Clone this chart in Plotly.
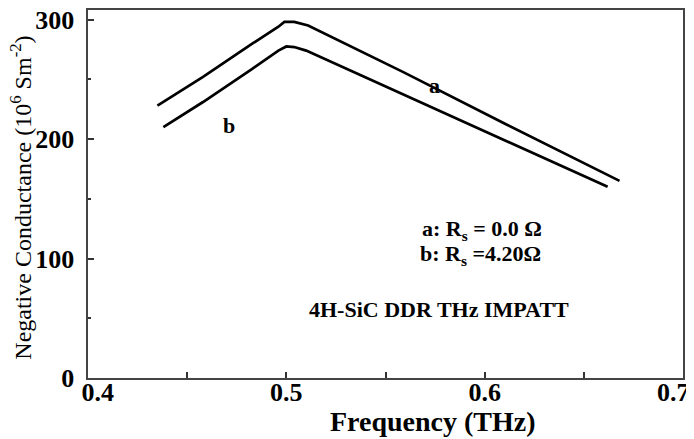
import plotly.graph_objects as go

# Frequency (THz) and negative conductance (10^6 S m^-2)
freq_a = [0.435, 0.458, 0.483, 0.496, 0.499, 0.504, 0.511, 0.559, 0.610, 0.668]
cond_a = [228, 252, 280, 294, 298, 298, 295, 256, 213, 165]

freq_b = [0.438, 0.458, 0.483, 0.496, 0.500, 0.504, 0.510, 0.559, 0.610, 0.662]
cond_b = [210, 231, 259, 274, 277.5, 277, 274, 237, 199, 160]

NB = "\u00a0"
x_ticks = [0.4, 0.5, 0.6, 0.7]
x_tick_labels = [NB * 3 + "0.4", "0.5", "0.6", "0.7" + NB * 3]
y_ticks = [0, 100, 200, 300]
y_tick_labels = ["0" + NB, "100" + NB, "200" + NB, "300" + NB]

SERIF = "Liberation Serif"

fig = go.Figure()
fig.add_trace(go.Scatter(x=freq_a, y=cond_a, mode="lines",
                         line=dict(color="black", width=2.7), name="a"))
fig.add_trace(go.Scatter(x=freq_b, y=cond_b, mode="lines",
                         line=dict(color="black", width=2.7), name="b"))

tick_font = dict(family=SERIF, size=26, color="black", weight="bold")
ann_font = dict(family=SERIF, size=22, color="black", weight="bold")

fig.add_annotation(x=0.5745, y=245, text="a", showarrow=False, font=ann_font)
fig.add_annotation(x=0.4711, y=211, text="b", showarrow=False, font=ann_font)
fig.add_annotation(x=0.5674, y=124, text="a: R<sub>s</sub> = 0.0 Ω", showarrow=False,
                   xanchor="left", font=ann_font)
fig.add_annotation(x=0.5664, y=103, text="b: R<sub>s</sub> =4.20Ω", showarrow=False,
                   xanchor="left", font=ann_font)
fig.add_annotation(x=0.577, y=57, text="4H-SiC DDR THz IMPATT", showarrow=False,
                   font=ann_font)

# axis titles
fig.add_annotation(xref="paper", yref="paper", x=0.58, y=0, yshift=-43,
                   xanchor="center", yanchor="middle", showarrow=False,
                   text="Frequency (THz)",
                   font=dict(family=SERIF, size=28, color="black", weight="bold"))
fig.add_annotation(xref="paper", yref="paper", x=0, xshift=-67, y=0.49,
                   xanchor="center", yanchor="middle", showarrow=False, textangle=-90,
                   text="Negative Conductance (10<sup>6</sup> Sm<sup>-2</sup>)",
                   font=dict(family=SERIF, size=24, color="black"))

axis_line = dict(showline=True, linecolor="#444444", linewidth=2, mirror=True,
                 showgrid=False, zeroline=False, ticks="inside", tickcolor="#333333",
                 ticklen=6, tickwidth=1.5, automargin=False, ticklabeloverflow="allow")

fig.update_xaxes(range=[0.4, 0.7], tickvals=x_ticks, ticktext=x_tick_labels,
                 tickfont=tick_font, ticklabelstandoff=-10,
                 minor=dict(dtick=0.05, tick0=0.4, ticks="inside", ticklen=6,
                            tickcolor="#333333", tickwidth=1.5),
                 **axis_line)
fig.update_yaxes(range=[0, 308], tickvals=y_ticks, ticktext=y_tick_labels,
                 tickfont=tick_font,
                 minor=dict(dtick=50, tick0=0, ticks="inside", ticklen=3,
                            tickcolor="#333333", tickwidth=1.5),
                 **axis_line)

fig.update_layout(width=686, height=431,
                  margin=dict(l=80, r=11, t=2, b=61, autoexpand=False),
                  paper_bgcolor="white", plot_bgcolor="white",
                  showlegend=False)

fig.write_html("out.html")
